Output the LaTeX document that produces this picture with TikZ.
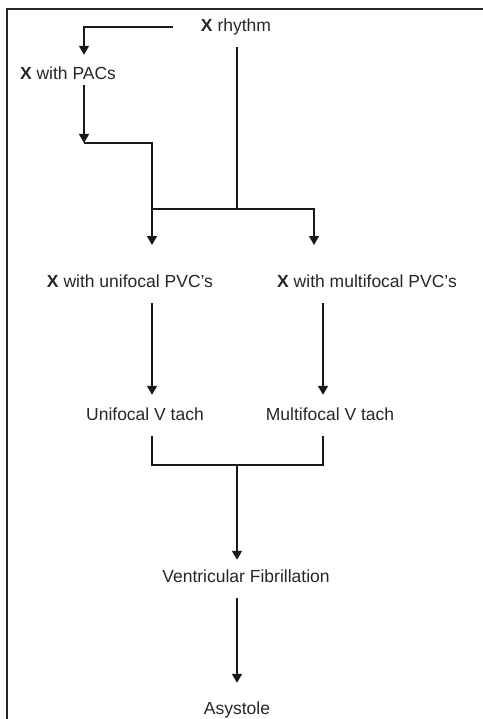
\documentclass[tikz,border=0pt]{standalone}
\usepackage{fontspec}
\setmainfont{Liberation Sans}
\usetikzlibrary{arrows.meta}

\begin{document}
\begin{tikzpicture}[
  x=1bp, y=-1bp,
  lbl/.style={inner sep=0pt, text height=13bp, text depth=4bp,
    font=\fontsize{17.5bp}{20bp}\selectfont, text=black!85},
  line/.style={line width=1.6bp, black!90},
  arr/.style={line, -{Triangle[length=9bp, width=10bp]}},
  frame/.style={line width=1.5bp, black!85},
]
  \useasboundingbox (0,0) rectangle (483,719);
  \draw[frame] (7,719) -- (7,9) -- (483,9);

  % rhythms
  \node[lbl] (rhythm) at (236,27) {\textbf{X} rhythm};
  \node[lbl] (pacs) at (68,75) {\textbf{X} with PACs};
  \node[lbl] (uni) at (130,283) {\textbf{X} with unifocal PVC's};
  \node[lbl] (multi) at (367,283) {\textbf{X} with multifocal PVC's};
  \node[lbl] (uvt) at (145,416) {Unifocal V tach};
  \node[lbl] (mvt) at (330,416) {Multifocal V tach};
  \node[lbl] (vf) at (246,578) {Ventricular Fibrillation};
  \node[lbl] (asy) at (237,710) {Asystole};

  \coordinate (pacbend) at (84,143);
  \coordinate (split) at (237,209);
  \coordinate (uniin) at (152,245);
  \coordinate (multiin) at (314,245);
  \coordinate (join) at (237,465);

  \draw[arr] ([xshift=-28bp]rhythm.west) -| ([xshift=16bp,yshift=11.5bp]pacs.north);
  \draw[arr] ([xshift=16bp,yshift=-1.5bp]pacs.south) -- (pacbend);
  \draw[arr] (pacbend) -| (uniin);
  \draw[line] ([xshift=1bp,yshift=-11.5bp]rhythm.south) -- (split);
  \draw[line] (split) -- (split -| uniin);
  \draw[arr] (split) -| (multiin);

  \draw[arr] ([xshift=22bp,yshift=-11.5bp]uni.south) -- ([xshift=7bp,yshift=12.5bp]uvt.north);
  \draw[arr] ([xshift=-44bp,yshift=-11.5bp]multi.south) -- ([xshift=-7bp,yshift=12.5bp]mvt.north);

  % both V tachs lead to VF
  \draw[line] ([xshift=7bp,yshift=-11.5bp]uvt.south) |- (join)
    -| ([xshift=-7bp,yshift=-11.5bp]mvt.south);
  \draw[arr] (join) -- ([xshift=-9bp,yshift=9.5bp]vf.north);
  \draw[arr] ([xshift=-9bp,yshift=-11.5bp]vf.south) -- ([yshift=18.5bp]asy.north);
\end{tikzpicture}
\end{document}
